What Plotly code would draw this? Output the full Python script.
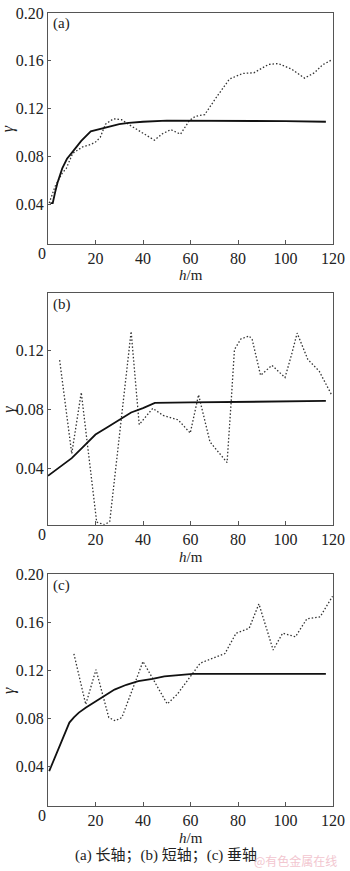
import plotly.graph_objects as go
from plotly.subplots import make_subplots

# Panel (a): long axis
A_model_h = [1, 2, 3, 4, 6, 8, 10, 14, 18, 22, 26, 30, 34, 40, 50, 60, 80, 100, 117]
A_model_g = [0.041, 0.041, 0.050, 0.058, 0.070, 0.078, 0.083, 0.093, 0.101, 0.103, 0.105,
             0.107, 0.108, 0.109, 0.110, 0.110, 0.110, 0.1095, 0.109]
A_exp_h = [0.5, 3, 6, 7.7, 10.4, 14.6, 18, 20, 22, 24.2, 27.6, 31, 33.8, 37.9, 41, 44.8,
           48.2, 51.7, 55.8, 59.5, 62, 66, 70.9, 76.4, 81.9, 86.7, 92.9, 97, 102.6, 108,
           112.2, 115.6, 119.7]
A_exp_g = [0.041, 0.055, 0.066, 0.070, 0.0826, 0.088, 0.090, 0.092, 0.096, 0.107, 0.1115,
           0.1107, 0.107, 0.102, 0.098, 0.0936, 0.099, 0.1024, 0.0986, 0.110, 0.1135, 0.115,
           0.1295, 0.1447, 0.1494, 0.150, 0.157, 0.1577, 0.153, 0.1455, 0.150, 0.1566, 0.161]

# Panel (b): short axis
B_model_h = [0, 5, 10, 15, 20, 25, 30, 35, 40, 45, 60, 80, 100, 117]
B_model_g = [0.035, 0.041, 0.047, 0.055, 0.063, 0.068, 0.073, 0.078, 0.081, 0.0845,
             0.0848, 0.085, 0.0855, 0.0858]
B_exp_h = [4.9, 10, 14, 20.5, 23.8, 26, 30.4, 35, 38.4, 44.1, 48.5, 54.8, 59.9, 63.4, 68.2,
           75.4, 77.1, 78.5, 81.2, 84.7, 86, 89.5, 94.3, 99.8, 102.5, 104.9, 109.4, 114.2, 119.5]
B_exp_g = [0.1135, 0.050, 0.0916, 0.0035, 0.0018, 0.004, 0.067, 0.133, 0.0698, 0.0808, 0.076,
           0.073, 0.064, 0.090, 0.058, 0.044, 0.0848, 0.1207, 0.1279, 0.130, 0.1274, 0.1032,
           0.110, 0.1017, 0.117, 0.1319, 0.114, 0.106, 0.0897]

# Panel (c): vertical axis
C_model_h = [0.5, 3, 5, 7, 9, 11, 13, 16, 20, 24, 28, 33, 38, 44, 49, 55, 61, 80, 100, 117]
C_model_g = [0.036, 0.048, 0.058, 0.068, 0.0765, 0.081, 0.0848, 0.089, 0.094, 0.099, 0.104,
             0.108, 0.111, 0.113, 0.115, 0.116, 0.117, 0.117, 0.117, 0.117]
C_exp_h = [10.9, 15.9, 20.2, 25.6, 28.3, 31.1, 40, 50.2, 54.4, 61.3, 64.1, 68, 74.5, 79.2,
           84.7, 88.8, 94.8, 98.8, 104.2, 109, 114.6, 119.8]
C_exp_g = [0.1338, 0.0916, 0.1206, 0.0807, 0.078, 0.0807, 0.1274, 0.092, 0.100, 0.119, 0.126,
           0.129, 0.134, 0.151, 0.155, 0.1754, 0.137, 0.151, 0.148, 0.163, 0.1646, 0.1817]

Y_TICKS_AC = [0.04, 0.08, 0.12, 0.16, 0.20]
Y_TICKS_B = [0.04, 0.08, 0.12, 0.16]
X_TICKS = [20, 40, 60, 80, 100, 120]
PANEL_LABELS = ["(a)", "(b)", "(c)"]
CAPTION = "(a) 长轴；(b) 短轴；(c) 垂轴"
WATERMARK = "@有色金属在线"

SERIF = "Liberation Serif"
CJK = "Liberation Serif, Noto Sans CJK SC"
FRAME = "#555555"

W, H = 350, 871
ML, MR, MT, MB = 48, 11, 5, 65
PH = H - MT - MB  # plotting height in px


def py(pix):
    """Pixel row -> paper y coordinate."""
    return (H - MB - pix) / PH


def px(pix):
    """Pixel column -> paper x coordinate."""
    return (pix - ML) / (W - ML - MR)


fig = make_subplots(rows=3, cols=1)

panels = [
    (A_model_h, A_model_g, A_exp_h, A_exp_g, [0.007, 0.20], Y_TICKS_AC, (5, 238)),
    (B_model_h, B_model_g, B_exp_h, B_exp_g, [0.0017, 0.159], Y_TICKS_B, (288, 522)),
    (C_model_h, C_model_g, C_exp_h, C_exp_g, [0.007, 0.20], Y_TICKS_AC, (572, 806)),
]

tick_font = dict(family=SERIF, size=16, color="#222")

annotations = []
for i, (mh, mg, eh, eg, yr, yt, (top, bot)) in enumerate(panels, start=1):
    fig.add_trace(go.Scatter(x=eh, y=eg, mode="lines",
                             line=dict(color="#333333", width=1.3, dash="1.5px,2px"),
                             showlegend=False), row=i, col=1)
    fig.add_trace(go.Scatter(x=mh, y=mg, mode="lines",
                             line=dict(color="#111111", width=1.8),
                             showlegend=False), row=i, col=1)
    fig.update_xaxes(range=[0, 120], tickvals=X_TICKS, ticks="inside", ticklen=4,
                     tickcolor=FRAME, showline=True, linecolor=FRAME, linewidth=1,
                     mirror=True, showgrid=False, zeroline=False,
                     ticklabeloverflow="allow", tickfont=tick_font,
                     row=i, col=1)
    fig.update_yaxes(range=yr, tickvals=yt, tickformat=".2f", ticks="inside", ticklen=3,
                     tickcolor=FRAME, showline=True, linecolor=FRAME, linewidth=1,
                     mirror=True, showgrid=False, zeroline=False,
                     ticklabeloverflow="allow", tickfont=tick_font,
                     domain=[py(bot), py(top)], row=i, col=1)

    # panel tag
    annotations.append(dict(text=PANEL_LABELS[i - 1], x=px(51), y=py(top + 11),
                            xref="paper", yref="paper", xanchor="left", yanchor="middle",
                            showarrow=False, font=dict(family=SERIF, size=15, color="#222")))
    # y-axis title
    annotations.append(dict(text="<i>γ</i>", x=px(8), y=py((top + bot) / 2),
                            xref="paper", yref="paper", xanchor="center", yanchor="middle",
                            textangle=-90, showarrow=False,
                            font=dict(family=SERIF, size=16, color="#222")))
    # origin label
    annotations.append(dict(text="0", x=px(42), y=py(bot + 10),
                            xref="paper", yref="paper", xanchor="center", yanchor="middle",
                            showarrow=False, font=tick_font))
    # x-axis title
    annotations.append(dict(text="<i>h</i>/m", x=0.5, y=py(bot + 32),
                            xref="paper", yref="paper", xanchor="center", yanchor="middle",
                            showarrow=False, font=dict(family=SERIF, size=15, color="#222")))

annotations.append(dict(text=CAPTION, x=px(168), y=py(856), xref="paper", yref="paper",
                        xanchor="center", yanchor="middle", showarrow=False,
                        font=dict(family=CJK, size=15, color="#222")))
annotations.append(dict(text=WATERMARK, x=px(301), y=py(861), xref="paper", yref="paper",
                        xanchor="center", yanchor="middle", showarrow=False,
                        font=dict(family="Noto Sans CJK SC", size=12, color="#f2c6cf")))

fig.update_layout(width=W, height=H, margin=dict(l=ML, r=MR, t=MT, b=MB),
                  paper_bgcolor="white", plot_bgcolor="white",
                  annotations=annotations, showlegend=False)

fig.write_html("out.html")
